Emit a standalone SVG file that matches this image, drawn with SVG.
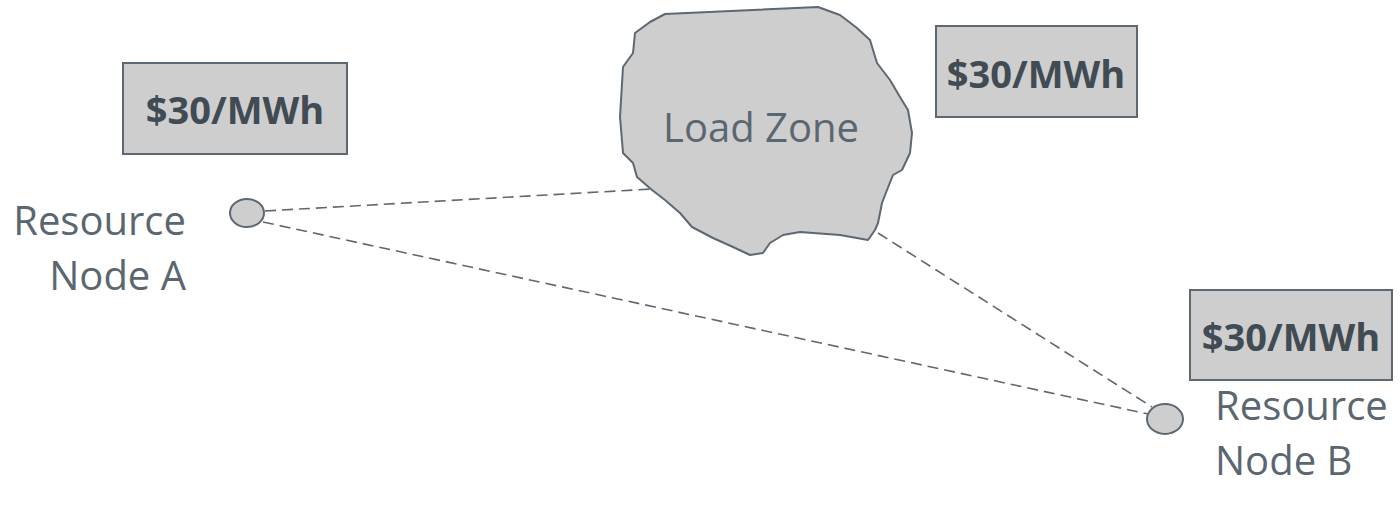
<svg xmlns="http://www.w3.org/2000/svg" width="1400" height="506" viewBox="0 0 1400 506">
<style>
.price{fill:#cecece;stroke:#5d6872;stroke-width:2}
.ptxt{font-family:"Open Sans","Liberation Sans",sans-serif;font-weight:bold;font-size:38px;fill:#414b53;text-anchor:middle}
.lbl{font-family:"Open Sans","Liberation Sans",sans-serif;font-size:40px;fill:#5b6770}
.node{fill:#cecece;stroke:#5d6872;stroke-width:2}
.link{stroke:#5d6872;stroke-width:1.6;stroke-dasharray:11 6;fill:none}
</style>
<rect width="1400" height="506" fill="#ffffff"/>
<g id="connectors">
<line class="link" x1="265" y1="211" x2="652" y2="189"/>
<line class="link" x1="263" y1="222" x2="1148" y2="414"/>
<line class="link" x1="878" y1="233" x2="1152" y2="407"/>
</g>
<g id="load-zone">
<path d="M665,14 L818,7 L840,15 L857,28 L870,40 L877,63 L890,80 L900,97 L908,110 L912,133 L910,153 L902,170 L893,175 L887,190 L882,203 L878,223 L875,230 L868,240 L840,235 L800,232 L783,235 L770,243 L763,253 L750,255 L733,247 L713,238 L692,227 L680,213 L665,200 L652,190 L637,177 L633,163 L623,153 L620,117 L623,67 L633,53 L635,33 L650,22 Z" fill="#cecece" stroke="#5d6872" stroke-width="2" stroke-linejoin="round"/>
<text class="lbl" x="761" y="142" text-anchor="middle" fill="#5f6b75">Load Zone</text>
</g>
<g id="price-a">
<rect class="price" x="123" y="63" width="224" height="91"/>
<text class="ptxt" x="235" y="124">$30/MWh</text>
</g>
<g id="price-zone">
<rect class="price" x="936" y="26" width="201" height="91"/>
<text class="ptxt" x="1036" y="88">$30/MWh</text>
</g>
<g id="price-b">
<rect class="price" x="1190" y="290" width="202" height="90"/>
<text class="ptxt" x="1291" y="351">$30/MWh</text>
</g>
<g id="node-a">
<ellipse class="node" cx="247" cy="213" rx="17" ry="14"/>
<text class="lbl" x="186" y="235" text-anchor="end">Resource</text>
<text class="lbl" x="186" y="290" text-anchor="end">Node A</text>
</g>
<g id="node-b">
<ellipse class="node" cx="1165" cy="419" rx="18" ry="15"/>
<text class="lbl" x="1215" y="420">Resource</text>
<text class="lbl" x="1215" y="475">Node B</text>
</g>
</svg>
